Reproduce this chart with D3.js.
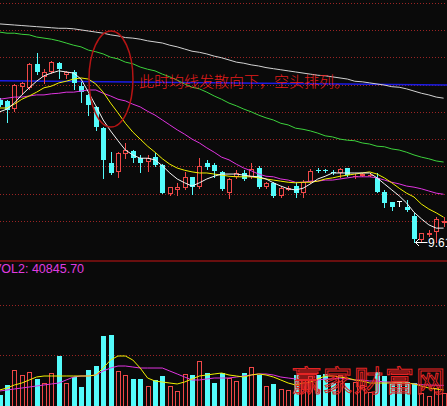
<!DOCTYPE html>
<html>
<head>
<meta charset="utf-8">
<script src="https://cdn.jsdelivr.net/npm/d3@7"></script>
<style>
  html, body { margin: 0; padding: 0; background: #0a0a0a; overflow: hidden; }
  svg { display: block; }
</style>
</head>
<body>
<svg id="chart" width="447" height="406"></svg>
<script>
// Daily candles, oldest first
const open  = [12.22,12.20,12.05,12.45,12.44,12.88,12.64,12.73,12.89,12.68,
               12.73,12.47,12.31,12.09,11.70,11.06,10.90,11.23,11.28,11.15,
               11.08,11.17,11.03,10.49,10.57,10.60,10.81,10.62,11.06,11.03,
               10.90,10.51,10.81,10.88,10.81,10.97,10.62,10.70,10.46,10.59,
               10.64,10.51,10.71,10.93,10.93,10.90,10.88,10.97,10.82,10.85,
               10.84,10.79,10.53,10.35,10.37,10.26,10.09,9.65,9.77,9.80,9.99];
const high  = [12.25,12.22,12.51,12.55,12.89,13.08,12.78,12.93,12.91,12.74,
               12.77,12.55,12.33,12.11,11.72,11.26,11.26,11.43,11.30,11.21,
               11.21,11.25,11.04,10.62,10.70,10.90,10.81,11.15,11.12,11.06,
               10.92,10.79,10.93,10.93,11.06,11.01,10.71,10.71,10.64,10.64,
               10.71,10.75,10.95,10.97,10.96,10.93,10.97,10.97,10.86,10.88,
               10.88,10.88,10.57,10.35,10.37,10.38,10.15,9.78,9.84,10.07,10.07];
const low   = [12.11,11.81,12.01,12.33,12.42,12.69,12.53,12.72,12.62,12.62,
               12.42,12.18,11.94,11.67,10.79,10.86,10.81,11.15,11.08,10.90,
               10.92,11.01,10.51,10.48,10.48,10.59,10.49,10.60,10.95,10.81,
               10.57,10.42,10.79,10.75,10.79,10.60,10.60,10.44,10.44,10.57,
               10.44,10.44,10.70,10.90,10.90,10.86,10.81,10.82,10.79,10.83,
               10.82,10.53,10.26,10.20,10.27,10.18,9.61,9.63,9.73,9.62,9.91];
const close = [12.12,12.03,12.49,12.53,12.88,12.73,12.73,12.91,12.78,12.73,
               12.53,12.36,12.12,11.72,11.12,10.88,11.25,11.30,11.15,11.06,
               11.15,11.03,10.51,10.62,10.62,10.81,10.62,11.01,10.99,10.92,
               10.59,10.77,10.88,10.77,10.95,10.62,10.70,10.46,10.60,10.60,
               10.51,10.71,10.92,10.92,10.92,10.89,10.95,10.84,10.83,10.86,
               10.85,10.53,10.33,10.26,10.37,10.20,9.67,9.78,9.78,10.04,10.00];

// Moving averages of the close
const ma5   = [12.00,12.05,12.16,12.31,12.44,12.56,12.66,12.71,12.75,12.73,
               12.71,12.60,12.36,12.11,11.85,11.65,11.47,11.30,11.21,11.15,
               11.15,11.12,11.01,10.88,10.77,10.70,10.64,10.70,10.77,10.82,
               10.86,10.86,10.86,10.84,10.82,10.81,10.77,10.70,10.64,10.59,
               10.57,10.60,10.68,10.77,10.82,10.88,10.88,10.88,10.88,10.88,
               10.88,10.79,10.68,10.57,10.46,10.33,10.16,10.04,9.93,9.87,9.87];
const ma10  = [12.07,12.07,12.14,12.23,12.29,12.36,12.44,12.47,12.53,12.56,
               12.60,12.62,12.60,12.51,12.36,12.16,11.98,11.79,11.63,11.50,
               11.37,11.26,11.14,11.04,10.97,10.93,10.90,10.88,10.88,10.86,
               10.84,10.82,10.81,10.81,10.81,10.79,10.77,10.75,10.73,10.71,
               10.70,10.71,10.71,10.73,10.77,10.79,10.82,10.84,10.86,10.88,
               10.90,10.86,10.79,10.70,10.60,10.51,10.44,10.31,10.22,10.15,10.07];
const ma20  = [12.23,12.25,12.27,12.27,12.29,12.31,12.31,12.33,12.34,12.36,
               12.36,12.38,12.40,12.40,12.34,12.29,12.23,12.20,12.14,12.09,
               12.01,11.94,11.85,11.76,11.67,11.59,11.50,11.43,11.34,11.26,
               11.17,11.12,11.04,10.97,10.92,10.86,10.82,10.81,10.77,10.75,
               10.71,10.71,10.73,10.73,10.75,10.75,10.77,10.79,10.81,10.81,
               10.81,10.79,10.75,10.71,10.68,10.64,10.62,10.59,10.55,10.51,10.49];
const ma60  = [13.46,13.44,13.44,13.42,13.41,13.37,13.35,13.33,13.30,13.26,
               13.22,13.19,13.13,13.10,13.06,13.00,12.97,12.91,12.88,12.82,
               12.78,12.75,12.69,12.64,12.58,12.51,12.45,12.42,12.36,12.29,
               12.23,12.16,12.11,12.05,12.00,11.94,11.89,11.85,11.79,11.76,
               11.70,11.68,11.65,11.61,11.56,11.54,11.50,11.48,11.47,11.43,
               11.41,11.37,11.36,11.32,11.30,11.26,11.21,11.17,11.14,11.10,11.08];
const ma120 = [13.61,13.60,13.59,13.58,13.57,13.56,13.55,13.54,13.53,13.53,
               13.52,13.50,13.48,13.46,13.44,13.41,13.39,13.36,13.35,13.33,
               13.30,13.28,13.26,13.22,13.19,13.15,13.11,13.09,13.06,13.02,
               12.99,12.95,12.91,12.89,12.86,12.84,12.81,12.79,12.77,12.75,
               12.73,12.71,12.69,12.67,12.66,12.64,12.62,12.60,12.56,12.55,
               12.53,12.51,12.49,12.46,12.45,12.42,12.38,12.34,12.31,12.27,12.25];

// Reference line, price at the first and the last day
const refLine = [12.57, 12.49];

// Volume and its moving averages
const volume = [21800,41600,71300,61400,67300,53500,45500,65300,99000,45500,
                57400,37600,71300,79200,138600,140600,69300,61400,53500,53500,
                39600,51500,59400,39600,29700,63400,61400,89100,65300,45500,
                65300,55400,49500,65300,77200,61400,39600,43600,33700,31700,
                61400,51500,59400,61400,63400,45500,61400,45500,47500,41600,
                27700,67300,59400,45500,47500,47500,45500,25700,19800,35600,25700];
const volMa5  = [31700,35600,41600,45500,51500,57400,59400,59400,59400,59400,
                 59400,59400,59400,61400,75200,91100,99000,99000,91100,75200,
                 55400,49500,47500,45500,43600,47500,53500,59400,61400,63400,
                 65300,61400,59400,57400,61400,63400,61400,57400,51500,45500,
                 41600,45500,47500,53500,59400,59400,57400,55400,51500,49500,
                 45500,45500,45500,45500,45500,45500,43600,39600,35600,33700,31700];
const volMa10 = [29700,31700,33700,35600,37600,39600,41600,43600,45500,51500,
                 57400,59400,59400,61400,69300,75200,79200,79200,77200,75200,
                 75200,75200,75200,69300,63400,57400,51500,51500,53500,55400,
                 55400,55400,57400,59400,61400,63400,63400,61400,57400,55400,
                 53500,51500,51500,51500,53500,53500,55400,53500,51500,51500,
                 49500,49500,47500,47500,45500,45500,43600,42200,41500,41000,40845.70];

const priceGrid = [10.0, 10.5, 11.0, 11.5, 12.0, 12.5, 13.0, 13.5, 14.0];
const volumeGrid = [100000, 200000];
const volTitle = "VOL2";
const note = "此时均线发散向下，空头排列。";
const watermark = "赢家财富网";

// ---- drawing ----
const W = 447, H = 406;
const RED = "#f04848", CYAN = "#54fcfc", GRID = "#9a2424";
const svg = d3.select("#chart");

svg.append("rect").attr("width", W).attr("height", H).attr("fill", "#0a0a0a");

const x  = d3.scaleLinear().domain([0, close.length - 1]).range([-0.4, 443.6]);
const y  = d3.scaleLinear().domain([9.286, 14.048]).range([260, 0]);
const vy = d3.scaleLinear().domain([0, 287100]).range([406, 261]);
const px = v => Math.round(v);

// dotted grid lines
svg.append("g").selectAll("line").data(priceGrid).join("line")
  .attr("x1", 0).attr("x2", W)
  .attr("y1", d => px(y(d)) + 0.5).attr("y2", d => px(y(d)) + 0.5)
  .attr("stroke", GRID).attr("stroke-dasharray", "1,2");
svg.append("g").selectAll("line").data(volumeGrid).join("line")
  .attr("x1", 0).attr("x2", W)
  .attr("y1", d => px(vy(d)) + 0.5).attr("y2", d => px(vy(d)) + 0.5)
  .attr("stroke", GRID).attr("stroke-dasharray", "1,2");

// panel separator
svg.append("line").attr("x1", 0).attr("x2", W).attr("y1", 261).attr("y2", 261)
  .attr("stroke", "#8a1212").attr("stroke-width", 1.5);

// reference line
svg.append("line")
  .attr("x1", x(0)).attr("x2", W)
  .attr("y1", y(refLine[0])).attr("y2", y(refLine[1]))
  .attr("stroke", "#1c1ce6").attr("stroke-width", 1.5);

const addLine = (data, color, scale = y) => {
  const gen = d3.line().x((d, i) => x(i)).y(d => scale(d));
  svg.append("path").datum(data).attr("d", gen)
    .attr("fill", "none").attr("stroke", color).attr("stroke-width", 1);
};

// long averages behind the candles
addLine(ma120, "#d2d2d2");
addLine(ma60, "#3cd23c");

// candles: rising days hollow red, falling days solid cyan, unchanged days white
const cg = svg.append("g");
close.forEach((c, i) => {
  const o = open[i], h = high[i], l = low[i];
  const cx = px(x(i));
  const up = c > o, flat = c === o;
  const color = flat ? "#ffffff" : (up ? RED : CYAN);
  const yTop = px(y(Math.max(o, c))), yBot = px(y(Math.min(o, c)));
  const yH = px(y(h)), yL = px(y(l));
  const wick = (a, b) => cg.append("line")
    .attr("x1", cx + 0.5).attr("x2", cx + 0.5).attr("y1", a).attr("y2", b)
    .attr("stroke", color).attr("stroke-width", 1);
  if (yBot - yTop < 1) {
    wick(yH, yL + 1);
    cg.append("line").attr("x1", cx - 2).attr("x2", cx + 3)
      .attr("y1", yTop + 0.5).attr("y2", yTop + 0.5)
      .attr("stroke", color).attr("stroke-width", 1);
  } else if (up) {
    if (yH < yTop) wick(yH, yTop);
    if (yL > yBot) wick(yBot, yL + 1);
    cg.append("rect").attr("x", cx - 1.5).attr("y", yTop + 0.5)
      .attr("width", 4).attr("height", Math.max(1, yBot - yTop - 1))
      .attr("fill", "none").attr("stroke", color).attr("stroke-width", 1);
  } else {
    wick(yH, yL + 1);
    cg.append("rect").attr("x", cx - 2).attr("y", yTop)
      .attr("width", 5).attr("height", yBot - yTop)
      .attr("fill", color);
  }
});

// short averages on top
addLine(ma20, "#e034e0");
addLine(ma10, "#f0f000");
addLine(ma5, "#f4f4f4");

// lowest low marker
const iMin = d3.minIndex(low);
const ax = x(iMin) + 1.5, ay = px(y(low[iMin])) + 0.5;
svg.append("path")
  .attr("d", `M${ax + 12},${ay} H${ax} M${ax + 3.5},${ay - 3.5} L${ax},${ay} L${ax + 3.5},${ay + 3.5}`)
  .attr("fill", "none").attr("stroke", "#ffffff").attr("stroke-width", 1);
svg.append("text")
  .attr("x", ax + 12.5).attr("y", ay + 4.8)
  .attr("fill", "#ffffff")
  .style("font", "12px 'Liberation Sans', Arial, sans-serif")
  .text(d3.format(".2f")(low[iMin]));

// volume bars, coloured like their candles
const vg = svg.append("g");
const v0 = px(vy(0));
volume.forEach((v, i) => {
  const cx = px(x(i));
  const top = px(vy(v));
  if (close[i] > open[i]) {
    vg.append("rect").attr("x", cx - 1.5).attr("y", top + 0.5)
      .attr("width", 4).attr("height", v0 - top)
      .attr("fill", "none").attr("stroke", RED).attr("stroke-width", 1);
  } else {
    vg.append("rect").attr("x", cx - 2).attr("y", top)
      .attr("width", 5).attr("height", v0 - top + 1)
      .attr("fill", CYAN);
  }
});
addLine(volMa10, "#e034e0", vy);
addLine(volMa5, "#f0f000", vy);

svg.append("text")
  .attr("x", -7).attr("y", 272.7)
  .attr("fill", "#e03ce0")
  .style("font", "12.5px 'Liberation Sans', Arial, sans-serif")
  .text(`${volTitle}: ${d3.format(".2f")(volMa10[volMa10.length - 1])}`);

// annotation
svg.append("ellipse")
  .attr("cx", x(15.05)).attr("cy", y(12.60))
  .attr("rx", 22).attr("ry", 48)
  .attr("fill", "none").attr("stroke", "#b41414").attr("stroke-width", 1.5);
svg.append("text")
  .attr("x", 139).attr("y", 86.5)
  .attr("fill", "#e41c1c")
  .style("font", "300 15px 'Noto Sans CJK SC', sans-serif")
  .text(note);

// site mark
svg.append("text")
  .attr("x", 292).attr("y", 392)
  .attr("fill", "none").attr("stroke", "#e42424").attr("stroke-width", 1)
  .attr("letter-spacing", 2)
  .style("font", "29px 'Noto Sans CJK SC', sans-serif")
  .text(watermark);
</script>
</body>
</html>
